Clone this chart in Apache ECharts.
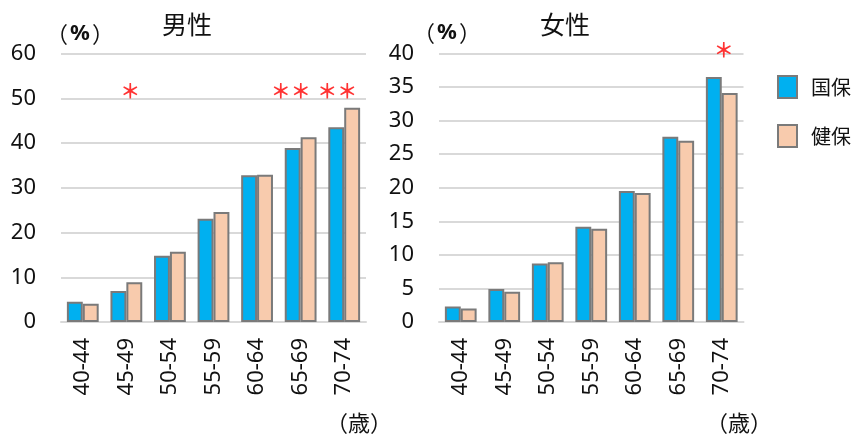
<!DOCTYPE html>
<html>
<head>
<meta charset="utf-8">
<script src="https://cdn.jsdelivr.net/npm/echarts@6/dist/echarts.min.js"></script>
<style>
  html, body { margin: 0; padding: 0; background: #fff; }
  #chart { width: 852px; height: 437px; }
</style>
</head>
<body>
<div id="chart"></div>
<script>
// ---- data ----
const categories = ['40-44', '45-49', '50-54', '55-59', '60-64', '65-69', '70-74'];
const seriesNames = ['国保', '健保'];
const maleKokuho = [4.5, 6.9, 14.8, 23.1, 32.8, 38.9, 43.5];
const maleKenpo  = [4.1, 8.9, 15.7, 24.6, 32.9, 41.3, 47.9];
const femaleKokuho = [2.3, 4.9, 8.7, 14.2, 19.5, 27.6, 36.5];
const femaleKenpo  = [2.0, 4.5, 8.9, 13.9, 19.2, 27.0, 34.1];
const maleSig   = ['', '＊', '', '', '', '＊＊', '＊＊'];
const femaleSig = ['', '', '', '', '', '', '＊'];
const maleSigLevel = 51.5;
const femaleSigLevel = 40.5;
const maleTicks = { min: 0, max: 60, interval: 10 };
const femaleTicks = { min: 0, max: 40, interval: 5 };
const panelTitles = ['男性', '女性'];
const unitLabel = '{p|（}{b|%}{p|）}';
const ageLabel = '（歳）';

// ---- styling ----
const BLUE = '#00B0F0';
const PEACH = '#F8CBAD';
const BORDER = '#7a7a7a';
const GRID = '#d9d9d9';
const TXT = '#111111';
const NUMFONT = '"Noto Sans", "DejaVu Sans", sans-serif';
const JPFONT = '"Noto Sans CJK JP", sans-serif';
// label shifts (px) for significance marks, per category
const maleSigShift = [0, 4, 0, 0, 0, -10, -7];
const femaleSigShift = [0, 0, 0, 0, 0, 0, 2];

const chart = echarts.init(document.getElementById('chart'));

function barSeries(name, data, idx, color) {
  return {
    name: name, type: 'bar', xAxisIndex: idx, yAxisIndex: idx,
    data: data, barGap: '0%', barCategoryGap: '27%',
    itemStyle: { color: color, borderColor: BORDER, borderWidth: 2 },
    emphasis: { disabled: true }
  };
}
function sigSeries(sig, level, shifts, idx) {
  return {
    type: 'scatter', xAxisIndex: idx, yAxisIndex: idx, clip: false,
    symbolSize: 0, silent: true,
    data: sig.map((s, i) => ({
      value: [categories[i], level],
      label: { show: s !== '', formatter: s, offset: [shifts[i], 0] }
    })),
    label: { position: 'inside', color: '#ff0000', fontSize: 20, fontWeight: 'bold', fontFamily: JPFONT }
  };
}
function xAxis(idx) {
  return {
    type: 'category', gridIndex: idx, data: categories,
    axisTick: { show: false },
    axisLine: { lineStyle: { color: GRID, width: 2 } },
    axisLabel: { rotate: 90, fontSize: 22, color: TXT, fontFamily: NUMFONT, margin: 16, interval: 0 }
  };
}
function yAxis(idx, t) {
  return {
    type: 'value', gridIndex: idx, min: t.min, max: t.max, interval: t.interval,
    axisLine: { show: false }, axisTick: { show: false },
    splitLine: { lineStyle: { color: GRID, width: 2 } },
    axisLabel: { fontSize: 22, color: TXT, fontFamily: NUMFONT, margin: 25 }
  };
}
function txt(x, y, text, size, extra) {
  return { type: 'text', x: x, y: y, style: Object.assign({ text: text, fontSize: size, fill: TXT, fontFamily: JPFONT, align: 'center', verticalAlign: 'middle' }, extra || {}) };
}
const unitRich = {
  rich: {
    p: { fontSize: 22, fontFamily: JPFONT, fill: TXT },
    b: { fontSize: 22, fontFamily: NUMFONT, fontWeight: 'bold', fill: TXT, padding: [0, 2, 0, 2] }
  }
};

const option = {
  animation: false,
  grid: [
    { left: 61, right: 486, top: 53.5, bottom: 115 },
    { left: 439, right: 108.5, top: 53.5, bottom: 115 }
  ],
  xAxis: [xAxis(0), xAxis(1)],
  yAxis: [yAxis(0, maleTicks), yAxis(1, femaleTicks)],
  legend: {
    data: seriesNames, orient: 'vertical', left: 772, top: 70,
    itemWidth: 19, itemHeight: 22, itemGap: 25, icon: 'rect',
    itemStyle: { borderColor: BORDER, borderWidth: 2 },
    textStyle: { fontSize: 20, color: TXT, fontFamily: JPFONT, padding: [0, 0, 0, 9] },
    selectedMode: false
  },
  series: [
    barSeries(seriesNames[0], maleKokuho, 0, BLUE),
    barSeries(seriesNames[1], maleKenpo, 0, PEACH),
    barSeries(seriesNames[0], femaleKokuho, 1, BLUE),
    barSeries(seriesNames[1], femaleKenpo, 1, PEACH),
    sigSeries(maleSig, maleSigLevel, maleSigShift, 0),
    sigSeries(femaleSig, femaleSigLevel, femaleSigShift, 1)
  ],
  graphic: [
    txt(187, 24, panelTitles[0], 25),
    txt(565, 24, panelTitles[1], 25),
    txt(80, 34, unitLabel, 22, unitRich),
    txt(447, 33, unitLabel, 22, unitRich),
    txt(359, 423, ageLabel, 22),
    txt(739, 423, ageLabel, 22)
  ]
};
chart.setOption(option);
</script>
</body>
</html>
